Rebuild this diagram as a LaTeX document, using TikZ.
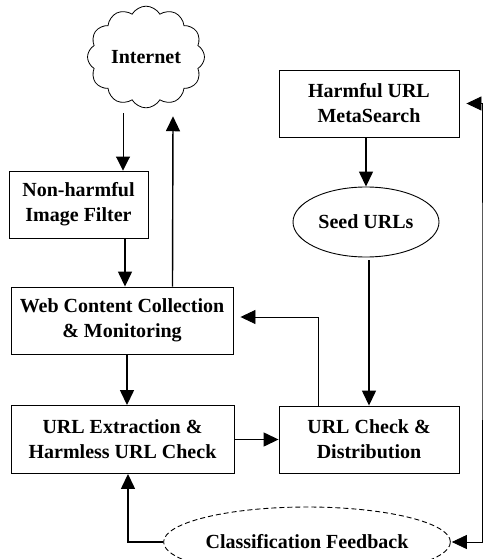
\documentclass[tikz,border=0pt]{standalone}
\usepackage{fontspec}
\setmainfont{Liberation Serif}
\usetikzlibrary{shapes.symbols,shapes.geometric,arrows.meta}
\tikzset{
  box/.style={draw, line width=0.9pt, rectangle, inner sep=0pt, align=center,
    font=\fontsize{20}{25}\selectfont\bfseries},
  oval/.style={draw, line width=0.9pt, ellipse, inner sep=0pt, align=center,
    font=\fontsize{20}{25}\selectfont\bfseries},
  arr/.style={line width=1.4pt, -{Triangle[length=15pt,width=14pt]}},
  arrthin/.style={line width=0.9pt, -{Triangle[length=14pt,width=14pt]}},
}
\begin{document}
\begin{tikzpicture}[x=1pt,y=-1pt]
\useasboundingbox (0,0) rectangle (486,559);
\node[draw, line width=0.8pt, cloud, cloud puffs=12, cloud puff arc=120, aspect=1.1,
  minimum width=117pt, minimum height=100pt, inner sep=0pt,
  font=\fontsize{20}{25}\selectfont\bfseries] (internet) at (146,57) {Internet};
\node[box, minimum width=139pt, minimum height=67pt] (filter) at (78.5,204.5) {Non-harmful\\Image Filter};
\node[box, minimum width=222pt, minimum height=67pt] (web) at (122,320.5) {Web Content Collection\\\& Monitoring};
\node[box, minimum width=223pt, minimum height=68pt] (ext) at (122.5,439.5) {URL Extraction \&\\Harmless URL Check};
\node[box, minimum width=180pt, minimum height=67pt] (check) at (369,439.5) {URL Check \&\\Distribution};
\node[box, minimum width=180pt, minimum height=67pt] (harm) at (369,103.5) {Harmful URL\\MetaSearch};
\node[oval, minimum width=146pt, minimum height=70pt] (seed) at (366,222) {Seed URLs};
\node[oval, dashed, dash pattern=on 5pt off 3pt, minimum width=270pt, minimum height=70pt] (fb) at (307,542) {Classification Feedback};
\coordinate (rr) at (482,300);

\draw[arrthin] ([xshift=-23pt,yshift=-5pt]internet.south) -- ([xshift=44.5pt]filter.north);
\draw[arr] ([xshift=50.5pt]web.north) -- ([xshift=27pt,yshift=-8pt]internet.south);
\draw[arr] ([xshift=46.5pt]filter.south) -- ([xshift=3pt]web.north);
\draw[arr] ([xshift=5pt]web.south) -- ([xshift=4.5pt]ext.north);
\draw[arr] (ext.east) -- (check.west);
\draw[arr] ([xshift=-3pt]harm.south) -- (seed.north);
\draw[arr] ([xshift=3pt,yshift=-3pt]seed.south) -- (check.north);
\draw[line width=0.9pt, -{Triangle[length=15pt,width=14pt]}] ([xshift=-51pt]check.north) |- ([xshift=7pt,yshift=3.5pt]web.east);
\draw[arr] (fb.west) -| ([xshift=5.5pt]ext.south);
\draw[line width=0.8pt, {Triangle[length=15pt,width=14pt]}-{Triangle[length=15pt,width=14pt]}]
  ([xshift=7pt]harm.east) -| (rr) |- ([xshift=1pt]fb.east);
\end{tikzpicture}
\end{document}
